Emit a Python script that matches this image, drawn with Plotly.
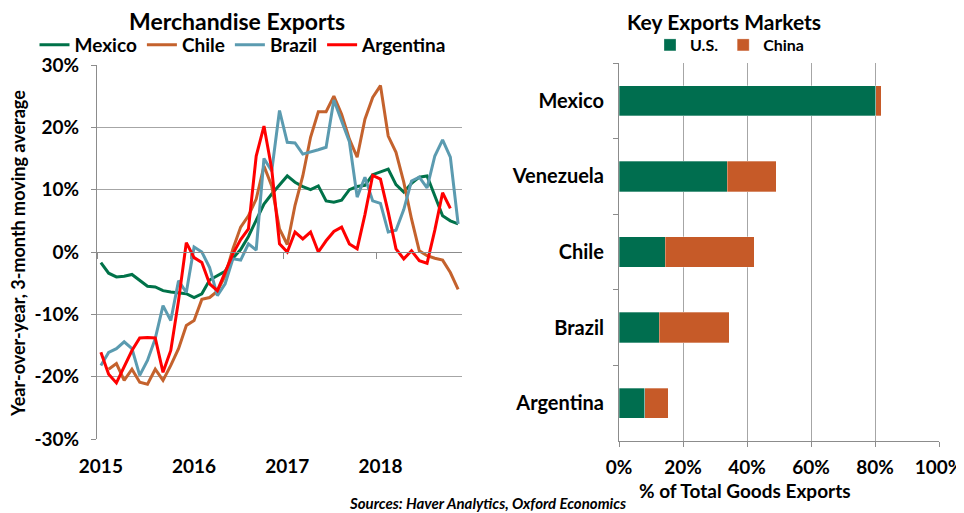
import plotly.graph_objects as go

# ---------------- data ----------------
months = list(range(47))  # Jan 2015 ... Nov 2018
year_ticks = [0, 12, 24, 36]
year_labels = ["2015", "2016", "2017", "2018"]
year_bounds = [-0.5, 11.5, 23.5, 35.5]
pct_ticks = [-30, -20, -10, 0, 10, 20, 30]
pct_labels = ["-30%", "-20%", "-10%", "0%", "10%", "20%", "30%"]

mexico = [-1.7, -3.4, -4.0, -3.9, -3.6, -4.5, -5.5, -5.6, -6.2, -6.4,
          -6.6, -6.7, -7.3, -6.7, -4.5, -3.8, -3.1, -1.0, 0.4, 2.5,
          5.0, 7.7, 9.3, 10.8, 12.2, 11.2, 10.5, 10.0, 10.6, 8.2,
          8.0, 8.3, 10.0, 10.5, 10.7, 12.4, 12.9, 13.3, 10.8, 9.6,
          11.0, 12.0, 12.2, 9.0, 5.8, 5.0, 4.5]
chile = [None, -18.8, -17.9, -20.6, -18.8, -20.9, -21.2, -18.8, -20.6, -18.2,
         -15.5, -11.8, -11.0, -7.6, -7.3, -6.3, -3.8, 0.5, 4.0, 5.8,
         8.5, 13.8, 10.6, 3.7, 1.2, 7.5, 12.2, 18.4, 22.5, 22.5,
         25.0, 22.1, 18.1, 15.2, 21.3, 24.8, 26.7, 18.6, 16.0, 11.2,
         5.3, 0.2, -0.6, -1.0, -1.3, -3.3, -6.0]
brazil = [-18.2, -16.1, -15.5, -14.4, -15.5, -19.8, -17.4, -13.9, -8.6, -11.0,
          -4.6, -6.5, 0.8, 0.0, -2.5, -7.0, -5.1, -1.1, -1.3, 1.3,
          0.3, 15.0, 13.0, 22.7, 17.6, 17.5, 15.7, 16.0, 16.4, 16.8,
          24.4, 21.0, 17.7, 8.8, 12.0, 8.2, 7.8, 3.2, 3.5, 6.8,
          11.4, 12.0, 10.3, 15.4, 18.0, 15.2, 4.5]
argentina = [-16.1, -19.6, -21.0, -18.5, -15.8, -13.8, -13.7, -13.8, -19.3, -15.8,
             -7.8, 1.5, -0.9, -1.7, -5.1, -6.2, -3.3, -0.3, 2.0, 3.7,
             15.4, 20.2, 13.3, 1.3, 0.0, 3.2, 2.1, 3.2, 0.0, 1.8,
             3.3, 4.0, 1.3, 0.5, 6.0, 12.3, 11.7, 6.4, 0.5, -1.1,
             0.2, -1.4, -1.8, 3.5, 9.5, 7.0, None]

markets = ["Mexico", "Venezuela", "Chile", "Brazil", "Argentina"]
us_share = [80.3, 33.8, 14.5, 12.5, 8.0]
china_share = [1.6, 15.4, 27.7, 21.9, 7.4]

# ---------------- style ----------------
FONT = "Lato, Roboto, sans-serif"
GRID = "#A6A6A6"
AXIS = "#8C8C8C"
OFF = 8                      # default page margin around the plot div
W, H = 964 - OFF, 513 - OFF

def px_x(p):
    return (p - OFF) / W

def px_y(p):
    return 1 - (p - OFF) / H

left_dom = [px_x(97), px_x(462)]
left_ydom = [px_y(439), px_y(65)]
right_dom = [px_x(619), px_x(939)]
right_ydom = [px_y(441), px_y(63)]
zero_pos = left_ydom[0] + (left_ydom[1] - left_ydom[0]) * (0 - (-30)) / 60

fig = go.Figure()

series = [("Mexico", mexico, "#007249"), ("Chile", chile, "#C4622D"),
          ("Brazil", brazil, "#5B9BB0"), ("Argentina", argentina, "#FF0000")]
for name, vals, color in series:
    fig.add_trace(go.Scatter(x=months, y=vals, mode="lines", name=name,
                             line=dict(color=color, width=3),
                             xaxis="x", yaxis="y", legend="legend",
                             connectgaps=False))

# helper trace for the zero-line tick axis
fig.add_trace(go.Scatter(x=[0], y=[None], mode="lines", xaxis="x3", yaxis="y",
                         showlegend=False, hoverinfo="skip"))

fig.add_trace(go.Bar(y=markets, x=us_share, orientation="h", name="U.S.",
                     marker=dict(color="#006E4F", line=dict(color="rgba(255,255,255,0.6)", width=0.5)),
                     xaxis="x2", yaxis="y2", legend="legend2"))
fig.add_trace(go.Bar(y=markets, x=china_share, orientation="h", name="China",
                     marker=dict(color="#C65A28", line=dict(color="rgba(255,255,255,0.6)", width=0.5)),
                     xaxis="x2", yaxis="y2", legend="legend2"))

bold = dict(family=FONT, color="black", weight="bold")

fig.update_layout(
    width=W, height=H,
    margin=dict(l=0, r=0, t=0, b=0),
    paper_bgcolor="white", plot_bgcolor="white",
    font=dict(family=FONT, color="black"),
    barmode="stack", bargap=0.6,
    showlegend=True,
    xaxis=dict(domain=left_dom, anchor="y", range=[-0.5, 46.5], automargin=False,
               tickmode="array", tickvals=year_ticks, ticktext=year_labels,
               showgrid=False, zeroline=False, showline=False, ticks="",
               ticklabelstandoff=14, tickfont=dict(size=19, **bold)),
    xaxis3=dict(domain=left_dom, overlaying="x", anchor="free", position=zero_pos,
                range=[-0.5, 46.5], tickmode="array", tickvals=year_bounds,
                showticklabels=False, ticks="outside", ticklen=6, tickcolor=AXIS,
                showline=True, linecolor=AXIS, linewidth=1, automargin=False,
                showgrid=False, zeroline=False),
    yaxis=dict(domain=left_ydom, anchor="x", range=[-30, 30],
               tickmode="array", tickvals=pct_ticks, ticktext=pct_labels,
               showgrid=True, gridcolor=GRID, gridwidth=1,
               zeroline=False, showline=True, linecolor=AXIS, automargin=False,
               ticks="outside", ticklen=5, tickcolor=AXIS,
               ticklabelstandoff=8, tickfont=dict(size=19, **bold)),
    xaxis2=dict(domain=right_dom, anchor="y2", range=[0, 100], dtick=20,
                ticksuffix="%", showgrid=True, gridcolor=GRID, zeroline=False,
                showline=True, linecolor=AXIS, ticks="outside", ticklen=5,
                tickcolor=AXIS, ticklabelstandoff=4, automargin=False,
                tickfont=dict(size=19, **bold)),
    yaxis2=dict(domain=right_ydom, anchor="x2", autorange="reversed",
                type="category", tickson="boundaries", ticks="outside",
                ticklen=5, tickcolor=AXIS, showline=True, linecolor=AXIS,
                showgrid=False, zeroline=False, ticklabelstandoff=10,
                automargin=False, tickfont=dict(size=20, **bold)),
    legend=dict(orientation="h", x=px_x(243), xanchor="center",
                y=px_y(45), yanchor="middle", bgcolor="rgba(0,0,0,0)",
                font=dict(size=19, **bold), itemwidth=30, itemclick=False,
                itemdoubleclick=False),
    legend2=dict(orientation="h", x=px_x(730), xanchor="center",
                 y=px_y(45), yanchor="middle", bgcolor="rgba(0,0,0,0)",
                 traceorder="normal",
                 font=dict(size=16, **bold), itemwidth=30, itemclick=False,
                 itemdoubleclick=False),
    annotations=[
        dict(text="Merchandise Exports", x=px_x(237), y=px_y(21), xref="paper",
             yref="paper", showarrow=False, xanchor="center", yanchor="middle",
             font=dict(size=23, **bold)),
        dict(text="Key Exports Markets", x=px_x(724), y=px_y(21), xref="paper",
             yref="paper", showarrow=False, xanchor="center", yanchor="middle",
             font=dict(size=21, **bold)),
        dict(text="Year-over-year, 3-month moving average", x=px_x(18),
             y=px_y(254), xref="paper", yref="paper", showarrow=False,
             textangle=-90, xanchor="center", yanchor="middle",
             font=dict(size=18, **bold)),
        dict(text="% of Total Goods Exports", x=px_x(745), y=px_y(490),
             xref="paper", yref="paper", showarrow=False, xanchor="center",
             yanchor="middle", font=dict(size=19, **bold)),
        dict(text="<i>Sources: Haver Analytics, Oxford Economics</i>",
             x=px_x(487), y=px_y(503), xref="paper", yref="paper",
             showarrow=False, xanchor="center", yanchor="middle",
             font=dict(size=15, **bold)),
    ],
)

fig.write_html("out.html")
